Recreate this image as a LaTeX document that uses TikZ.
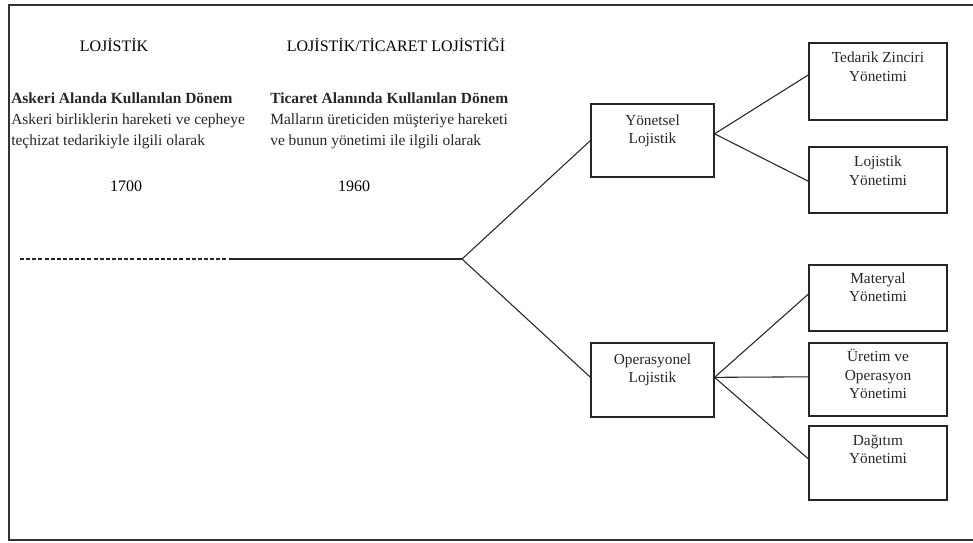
\documentclass[tikz,border=0pt]{standalone}
\usepackage{fontspec}
\setmainfont{Liberation Serif}
\begin{document}
\begin{tikzpicture}[x=0.75pt,y=-0.75pt,
  box/.style={draw=black!85,line width=0.8pt,rectangle,inner sep=0pt},
  btext/.style={font=\fontsize{11.5}{13.8}\selectfont,align=center,text=black!85,inner sep=0pt,anchor=north},
  head/.style={font=\fontsize{12}{14}\selectfont,text=black,inner sep=0pt},
  body/.style={font=\fontsize{11.6}{15.6}\selectfont,text=black!85,inner sep=0pt,align=left,anchor=north west},
  conn/.style={draw=black!85,line width=0.8pt}]
\useasboundingbox (0,0) rectangle (973,542);
% frame
\draw[black!80,line width=1pt] (973,5) -- (9,5) -- (9,540) -- (973,540);
% left column
\node[head] (h1) at (114,45) {LOJİSTİK};
\node[body] (b1) at (11,93) {\textbf{Askeri Alanda Kullanılan Dönem}\\Askeri birliklerin hareketi ve cepheye\\teçhizat tedarikiyle ilgili olarak};
\node[head] (y1) at (126,186) {1700};
% right column
\node[head] (h2) at (396,45) {LOJİSTİK/TİCARET LOJİSTİĞİ};
\node[body] (b2) at (270,93) {\textbf{Ticaret Alanında Kullanılan Dönem}\\Malların üreticiden müşteriye hareketi\\ve bunun yönetimi ile ilgili olarak};
\node[head] (y2) at (354,186) {1960};
% boxes
\node[box,minimum width=92.25pt,minimum height=54.75pt] (yon) at (652.5,140.5) {};
\node[btext] (yont) at ([yshift=-8pt]yon.north) {Yönetsel\\Lojistik};
\node[box,minimum width=92.25pt,minimum height=55.5pt] (ope) at (652.5,380) {};
\node[btext] (opet) at ([yshift=-8pt]ope.north) {Operasyonel\\Lojistik};
\node[box,minimum width=103.5pt,minimum height=57.75pt] (ted) at (878,81.5) {};
\node[btext] (tedt) at ([yshift=-7pt]ted.north) {Tedarik Zinciri\\Yönetimi};
\node[box,minimum width=103.5pt,minimum height=49.5pt] (loj) at (878,180) {};
\node[btext] (lojt) at ([yshift=-7pt]loj.north) {Lojistik\\Yönetimi};
\node[box,minimum width=103.5pt,minimum height=49.5pt] (mat) at (878,298) {};
\node[btext] (matt) at ([yshift=-6pt]mat.north) {Materyal\\Yönetimi};
\node[box,minimum width=103.5pt,minimum height=54.75pt] (ure) at (878,379.5) {};
\node[btext] (uret) at ([yshift=-5pt]ure.north) {Üretim ve\\Operasyon\\Yönetimi};
\node[box,minimum width=103.5pt,minimum height=55.5pt] (dag) at (878,463) {};
\node[btext] (dagt) at ([yshift=-7pt]dag.north) {Dağıtım\\Yönetimi};
% timeline
\coordinate (ds) at (20,259);
\coordinate (de) at (233,259);
\coordinate (jn) at (462,259);
\draw[conn,dash pattern=on 3pt off 1.6pt] (ds) -- (de);
\draw[conn] (de) -- (jn);
\draw[conn] (jn) -- (yon.west);
\draw[conn] (jn) -- ([yshift=2pt]ope.west);
\draw[conn] ([yshift=5pt]yon.east) -- ([yshift=5pt]ted.west);
\draw[conn] ([yshift=5pt]yon.east) -- ([yshift=-1pt]loj.west);
\draw[conn] ([yshift=2pt]ope.east) -- ([yshift=3pt]mat.west);
\draw[conn] ([yshift=2pt]ope.east) -- ([yshift=2pt]ure.west);
\draw[conn] ([yshift=2pt]ope.east) -- ([yshift=3pt]dag.west);
\end{tikzpicture}
\end{document}
